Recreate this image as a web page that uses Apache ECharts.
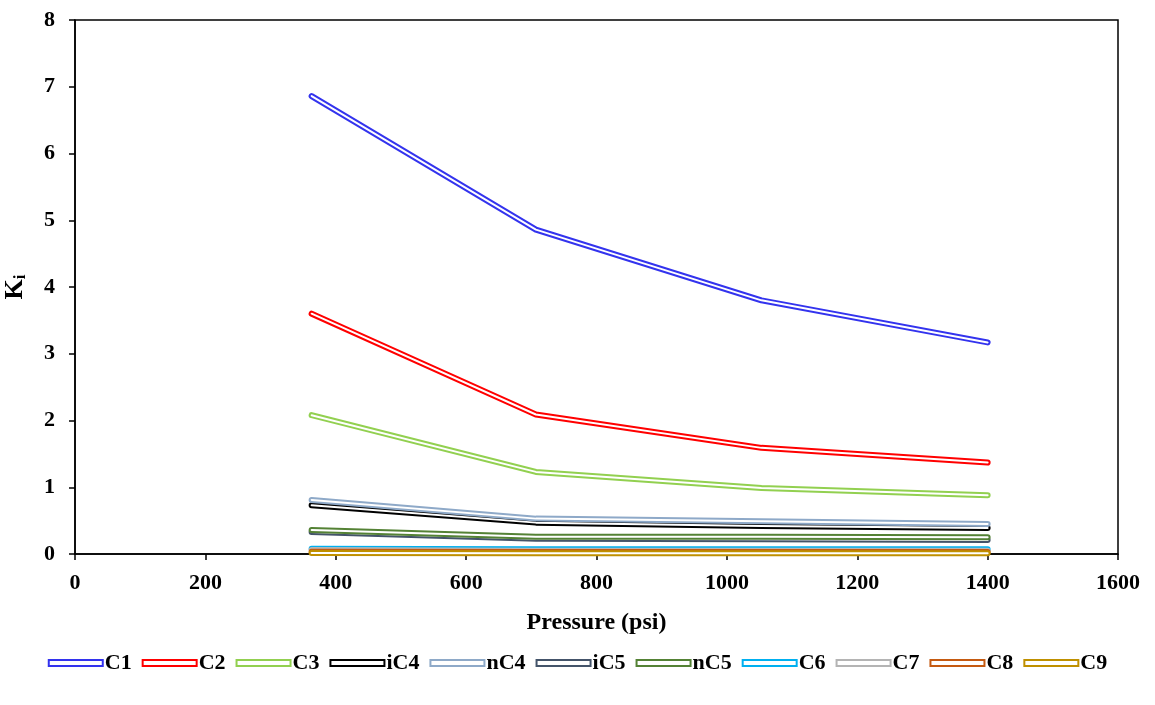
<!DOCTYPE html>
<html>
<head>
<meta charset="utf-8">
<script src="https://cdn.jsdelivr.net/npm/echarts@6/dist/echarts.min.js"></script>
<style>
  html, body { margin: 0; padding: 0; background: #fff; }
  #chart { width: 1155px; height: 705px; }
</style>
</head>
<body>
<div id="chart"></div>
<script>
// Equilibrium ratios K_i of each component at four separator pressures
const pressure = [363, 707, 1053, 1400];
const components = ['C1', 'C2', 'C3', 'iC4', 'nC4', 'iC5', 'nC5', 'C6', 'C7', 'C8', 'C9'];
const kC1  = [6.86, 4.86, 3.80, 3.17];
const kC2  = [3.60, 2.09, 1.59, 1.37];
const kC3  = [2.08, 1.23, 0.99, 0.88];
const kiC4 = [0.73, 0.47, 0.42, 0.39];
const knC4 = [0.81, 0.53, 0.49, 0.45];
const kiC5 = [0.33, 0.23, 0.22, 0.21];
const knC5 = [0.36, 0.26, 0.26, 0.25];
const kC6  = [0.08, 0.07, 0.07, 0.07];
const kC7  = [0.06, 0.05, 0.05, 0.05];
const kC8  = [0.035, 0.03, 0.03, 0.03];
const kC9  = [0.015, 0.012, 0.012, 0.012];
const xTicks = [0, 1600, 200];
const yTicks = [0, 8, 1];

const kValues = [kC1, kC2, kC3, kiC4, knC4, kiC5, knC5, kC6, kC7, kC8, kC9];
const colors = ['#3333ee', '#ff0000', '#92d050', '#000000', '#8ea9c8', '#44546a',
                '#548235', '#00b0f0', '#b4b4b4', '#c55a11', '#bf9000'];

const font = '"Liberation Serif", "Times New Roman", serif';

// Each component is drawn as a hollow double line: a wide coloured stroke
// with a thin white stroke running down its centre.
const series = [];
components.forEach((name, i) => {
  const data = pressure.map((p, j) => [p, kValues[i][j]]);
  series.push({
    name: name,
    type: 'line',
    data: data,
    showSymbol: false,
    symbol: 'none',
    z: 2 + i * 2,
    lineStyle: { color: colors[i], width: 6, cap: 'round', join: 'round' },
    itemStyle: { color: '#ffffff', borderColor: colors[i], borderWidth: 2 },
    emphasis: { disabled: true },
    animation: false
  });
  series.push({
    name: name + '-core',
    type: 'line',
    data: data,
    showSymbol: false,
    symbol: 'none',
    z: 3 + i * 2,
    lineStyle: { color: '#ffffff', width: 2, cap: 'round', join: 'round' },
    emphasis: { disabled: true },
    animation: false
  });
});

const chart = echarts.init(document.getElementById('chart'), null, { renderer: 'canvas' });
chart.setOption({
  animation: false,
  backgroundColor: '#ffffff',
  grid: {
    left: 75, right: 37, top: 20, bottom: 151,
    outerBoundsMode: 'none',
    show: true, borderColor: '#000', borderWidth: 1.5, backgroundColor: 'transparent'
  },
  legend: {
    data: components.map(n => ({ name: n, icon: 'rect' })),
    top: 647,
    left: 'center',
    itemWidth: 54,
    itemHeight: 6,
    itemGap: 10,
    textStyle: { fontFamily: font, fontWeight: 'bold', fontSize: 22, color: '#000', padding: [0, 0, 0, -3] }
  },
  xAxis: {
    type: 'value',
    min: xTicks[0], max: xTicks[1], interval: xTicks[2],
    name: 'Pressure (psi)',
    nameLocation: 'middle',
    nameGap: 57,
    nameTextStyle: { fontFamily: font, fontWeight: 'bold', fontSize: 24, color: '#000' },
    axisLine: { show: true, lineStyle: { color: '#000', width: 1.5 } },
    axisTick: { show: true, inside: false, length: 6, lineStyle: { color: '#000', width: 1.5 } },
    axisLabel: {
      fontFamily: font, fontWeight: 'bold', fontSize: 22, color: '#000', margin: 18,
      formatter: v => String(v)
    },
    splitLine: { show: false }
  },
  yAxis: {
    type: 'value',
    min: yTicks[0], max: yTicks[1], interval: yTicks[2],
    name: 'K{sub|i}',
    nameLocation: 'middle',
    nameRotate: 90,
    nameGap: 46,
    nameTextStyle: {
      fontFamily: font, fontWeight: 'bold', fontSize: 26, color: '#000',
      rich: { sub: { fontFamily: font, fontWeight: 'bold', fontSize: 17, color: '#000', verticalAlign: 'bottom', padding: [11, 0, 0, 0] } }
    },
    axisLine: { show: true, lineStyle: { color: '#000', width: 1.5 } },
    axisTick: { show: true, inside: false, length: 6, lineStyle: { color: '#000', width: 1.5 } },
    axisLabel: { fontFamily: font, fontWeight: 'bold', fontSize: 22, color: '#000', margin: 20 },
    splitLine: { show: false }
  },
  series: series
});
</script>
</body>
</html>
